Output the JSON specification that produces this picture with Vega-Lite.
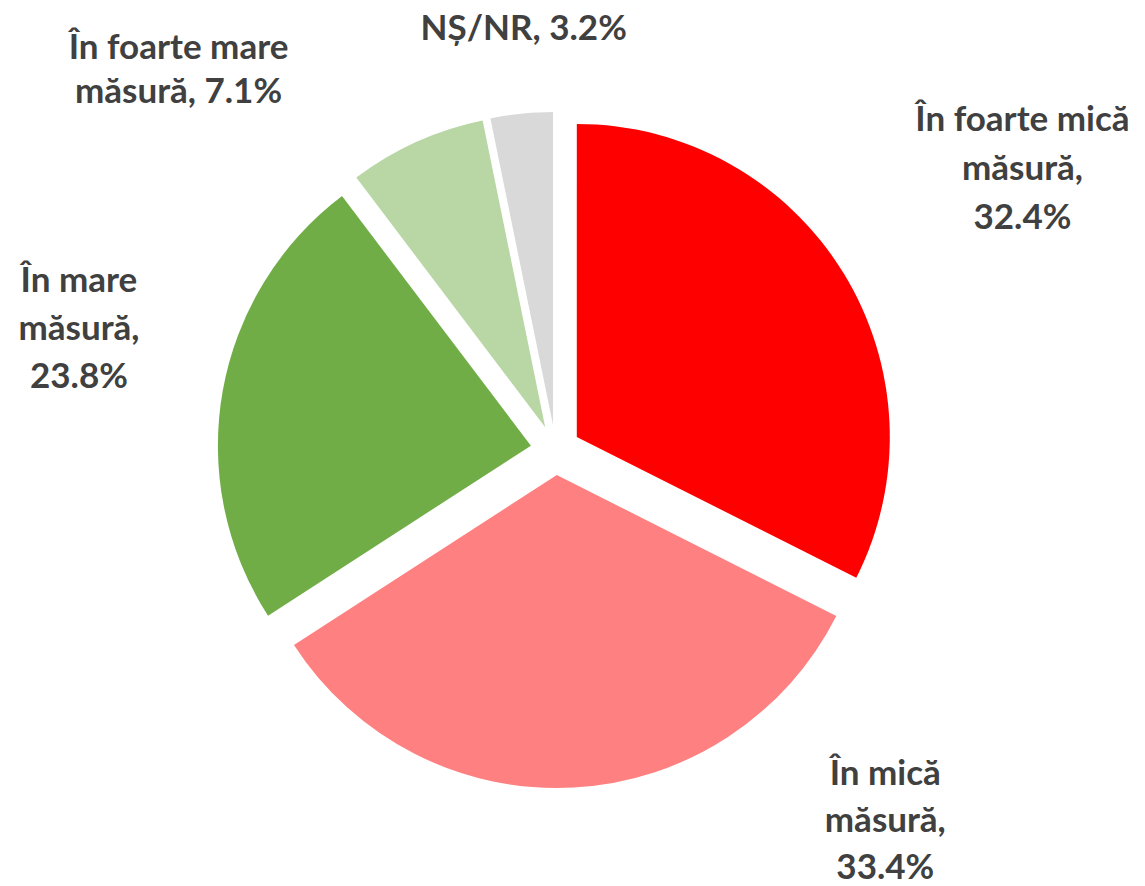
{
  "$schema": "https://vega.github.io/schema/vega-lite/v6.json",
  "autosize": "none",
  "width": 1111,
  "height": 872,
  "padding": {"left": 0, "top": 14, "right": 34, "bottom": 0},
  "background": "white",
  "view": {"stroke": null},
  "data": {
    "values": [
      {"cat": "În foarte mică măsură", "value": 32.4, "ord": 1, "label": "În foarte mică\nmăsură,\n32.4%"},
      {"cat": "În mică măsură", "value": 33.4, "ord": 2, "label": "În mică\nmăsură,\n33.4%"},
      {"cat": "În mare măsură", "value": 23.8, "ord": 3, "label": "În mare\nmăsură,\n23.8%"},
      {"cat": "În foarte mare măsură", "value": 7.1, "ord": 4, "label": "În foarte mare\nmăsură, 7.1%"},
      {"cat": "NȘ/NR", "value": 3.2, "ord": 5, "label": "NȘ/NR, 3.2%"}
    ]
  },
  "encoding": {
    "theta": {"field": "value", "type": "quantitative", "stack": true},
    "order": {"field": "ord", "type": "quantitative", "sort": "ascending"}
  },
  "layer": [
    {
      "mark": {"type": "arc", "radius": 313, "xOffset": 21.3, "yOffset": -13.1},
      "encoding": {
        "color": {"field": "cat", "type": "nominal", "legend": null, "scale": {"domain": ["În foarte mică măsură", "În mică măsură", "În mare măsură", "În foarte mare măsură", "NȘ/NR"], "range": ["#FF0000", "#FF8080", "#70AD47", "#B8D7A5", "#D9D9D9"]}},
        "opacity": {"condition": {"test": "datum.ord === 1", "value": 1}, "value": 0}
      }
    },
    {
      "mark": {"type": "arc", "radius": 313, "xOffset": 1.3, "yOffset": 25.0},
      "encoding": {
        "color": {"field": "cat", "type": "nominal", "legend": null},
        "opacity": {"condition": {"test": "datum.ord === 2", "value": 1}, "value": 0}
      }
    },
    {
      "mark": {"type": "arc", "radius": 313, "xOffset": -24.6, "yOffset": -4.3},
      "encoding": {
        "color": {"field": "cat", "type": "nominal", "legend": null},
        "opacity": {"condition": {"test": "datum.ord === 3", "value": 1}, "value": 0}
      }
    },
    {
      "mark": {"type": "arc", "radius": 313, "xOffset": -10.3, "yOffset": -22.8},
      "encoding": {
        "color": {"field": "cat", "type": "nominal", "legend": null},
        "opacity": {"condition": {"test": "datum.ord === 4", "value": 1}, "value": 0}
      }
    },
    {
      "mark": {"type": "arc", "radius": 313, "xOffset": -2.5, "yOffset": -24.9},
      "encoding": {
        "color": {"field": "cat", "type": "nominal", "legend": null},
        "opacity": {"condition": {"test": "datum.ord === 5", "value": 1}, "value": 0}
      }
    },
    {
      "mark": {"type": "text", "radius": 546, "dx": 2, "dy": -44, "font": "Lato", "fontWeight": "bold", "fontSize": 35, "lineHeight": 49, "lineBreak": "\n", "align": "center", "baseline": "middle", "color": "#404040"},
      "encoding": {"text": {"condition": {"test": "datum.ord === 1", "field": "label", "type": "nominal"}, "value": ""}}
    },
    {
      "mark": {"type": "text", "radius": 389, "dx": 309, "dy": -64, "font": "Lato", "fontWeight": "bold", "fontSize": 35, "lineHeight": 47, "lineBreak": "\n", "align": "center", "baseline": "middle", "color": "#404040"},
      "encoding": {"text": {"condition": {"test": "datum.ord === 2", "field": "label", "type": "nominal"}, "value": ""}}
    },
    {
      "mark": {"type": "text", "radius": 490, "dx": 6, "dy": -84, "font": "Lato", "fontWeight": "bold", "fontSize": 35, "lineHeight": 48, "lineBreak": "\n", "align": "center", "baseline": "middle", "color": "#404040"},
      "encoding": {"text": {"condition": {"test": "datum.ord === 3", "field": "label", "type": "nominal"}, "value": ""}}
    },
    {
      "mark": {"type": "text", "radius": 500, "dx": -171, "dy": 54, "font": "Lato", "fontWeight": "bold", "fontSize": 35, "lineHeight": 44, "lineBreak": "\n", "align": "center", "baseline": "middle", "color": "#404040"},
      "encoding": {"text": {"condition": {"test": "datum.ord === 4", "field": "label", "type": "nominal"}, "value": ""}}
    },
    {
      "mark": {"type": "text", "radius": 426, "dx": 11, "dy": 3, "font": "Lato", "fontWeight": "bold", "fontSize": 35, "lineHeight": 48, "lineBreak": "\n", "align": "center", "baseline": "middle", "color": "#404040"},
      "encoding": {"text": {"condition": {"test": "datum.ord === 5", "field": "label", "type": "nominal"}, "value": ""}}
    }
  ]
}
